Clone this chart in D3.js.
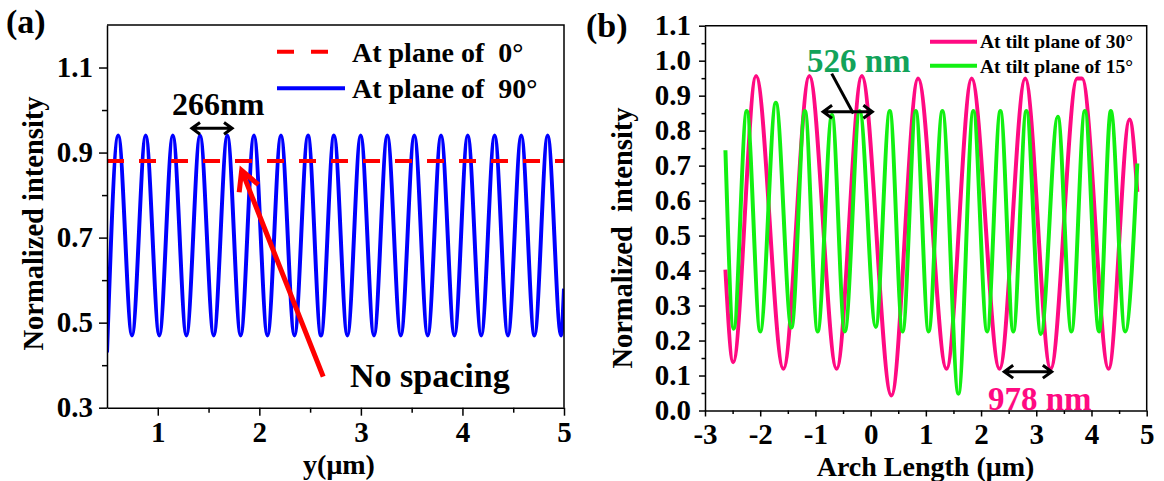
<!DOCTYPE html>
<html>
<head>
<meta charset="utf-8">
<script src="https://cdn.jsdelivr.net/npm/d3@7"></script>
<style>
  html, body { margin: 0; padding: 0; background: #fff; }
  svg text { font-family: "Liberation Serif", "Times New Roman", serif; font-weight: bold; white-space: pre; }
</style>
</head>
<body>
<svg id="fig" width="1164" height="481"></svg>
<script>
// ---------- Panel (a): intensity along y for the 0° and 90° planes ----------
const aTicksX = [1, 2, 3, 4, 5];
const aMinorX = [1.5, 2.5, 3.5, 4.5];
const aTicksY = [0.3, 0.5, 0.7, 0.9, 1.1];
const aMinorY = [0.4, 0.6, 0.8, 1.0];

// 0° plane: flat profile
const plane0X = [0.5, 5.0];
const plane0Y = [0.88, 0.88];

// 90° plane: extrema of the fringe profile (peaks/troughs), y in µm
const plane90X = [0.50, 0.611, 0.746, 0.881, 1.015, 1.148, 1.282, 1.416, 1.551, 1.685, 1.816,
                  1.947, 2.080, 2.213, 2.346, 2.479, 2.607, 2.735, 2.867, 2.998, 3.129, 3.260,
                  3.393, 3.526, 3.658, 3.789, 3.921, 4.052, 4.185, 4.317, 4.448, 4.579, 4.709,
                  4.839, 4.971, 5.00];
const plane90Y = [0.43, 0.94, 0.47, 0.94, 0.47, 0.94, 0.47, 0.94, 0.47, 0.94, 0.47,
                  0.94, 0.47, 0.94, 0.47, 0.94, 0.47, 0.94, 0.47, 0.94, 0.47, 0.94,
                  0.47, 0.94, 0.47, 0.94, 0.47, 0.94, 0.47, 0.94, 0.47, 0.94, 0.47,
                  0.94, 0.47, 0.58];

const aSpacing = 0.266;          // µm, fringe period marked "266nm"
const aSpacingStart = 1.416;     // peak where the period marker starts

// ---------- Panel (b): intensity along the arch for tilted planes ----------
const bTicksX = [-3, -2, -1, 0, 1, 2, 3, 4, 5];
const bMinorX = [-2.5, -1.5, -0.5, 0.5, 1.5, 2.5, 3.5, 4.5];
const bTicksY = [0.0, 0.1, 0.2, 0.3, 0.4, 0.5, 0.6, 0.7, 0.8, 0.9, 1.0, 1.1];
const bMinorY = [0.05, 0.15, 0.25, 0.35, 0.45, 0.55, 0.65, 0.75, 0.85, 0.95, 1.05];

// 30° tilt plane extrema
const tilt30X = [-2.63, -2.49, -2.075, -1.58, -1.11, -0.616, -0.16, 0.376, 0.86, 1.375,
                 1.83, 2.334, 2.80, 3.26, 3.74, 3.83, 4.31, 4.69, 4.83];
const tilt30Y = [0.403, 0.138, 0.956, 0.119, 0.956, 0.119, 0.956, 0.043, 0.949, 0.119,
                 0.949, 0.119, 0.949, 0.119, 0.949, 0.949, 0.119, 0.832, 0.625];

// 15° tilt plane extrema
const tilt15X = [-2.63, -2.48, -2.244, -2.0, -1.717, -1.434, -1.19, -0.96, -0.70, -0.468,
                 -0.198, 0.092, 0.347, 0.579, 0.818, 1.05, 1.30, 1.59, 1.86, 2.11,
                 2.35, 2.584, 2.82, 3.084, 3.39, 3.637, 3.88, 4.137, 4.35, 4.61, 4.83];
const tilt15Y = [0.744, 0.234, 0.856, 0.226, 0.88, 0.237, 0.856, 0.226, 0.845, 0.226,
                 0.856, 0.239, 0.856, 0.226, 0.856, 0.226, 0.856, 0.048, 0.856, 0.226,
                 0.856, 0.226, 0.856, 0.219, 0.84, 0.226, 0.856, 0.226, 0.856, 0.226, 0.706];

// ---------- colours ----------
const C_RED = "#ff0000", C_BLUE = "#0000ff", C_PINK = "#ff0a82", C_GREEN = "#12f012";
const C_GREEN_TXT = "#12a35a";

const svg = d3.select("#fig");
const zip = (xs, ys) => xs.map((x, i) => [x, ys[i]]);

function drawAxes(g, x, y, o) {
  const [x0, x1] = x.range(), [y0, y1] = y.range();
  const fs = 29;
  // minor ticks
  g.append("g").attr("transform", `translate(0,${y0})`)
    .call(d3.axisBottom(x).tickValues(o.minorX).tickSize(o.minorLen).tickFormat("").tickSizeOuter(0))
    .call(s => s.select(".domain").remove());
  g.append("g").attr("transform", `translate(${x0},0)`)
    .call(d3.axisLeft(y).tickValues(o.minorY).tickSize(o.minorLen).tickFormat("").tickSizeOuter(0))
    .call(s => s.select(".domain").remove());
  // major ticks
  g.append("g").attr("transform", `translate(0,${y0})`)
    .call(d3.axisBottom(x).tickValues(o.ticksX).tickSize(o.majorLen).tickPadding(o.padX)
      .tickFormat(o.fmtX).tickSizeOuter(0))
    .call(s => s.selectAll("text").attr("font-size", fs).attr("fill", "#000"));
  g.append("g").attr("transform", `translate(${x0},0)`)
    .call(d3.axisLeft(y).tickValues(o.ticksY).tickSize(o.majorLen).tickPadding(o.padY)
      .tickFormat(o.fmtY).tickSizeOuter(0))
    .call(s => s.selectAll("text").attr("font-size", fs).attr("fill", "#000"));
  g.selectAll(".tick line").attr("stroke", "#000").attr("stroke-width", 1.5);
  g.selectAll(".domain").attr("stroke", "#000").attr("stroke-width", 1.5);
  g.selectAll("g").attr("font-family", null);
  // frame: top and right edges
  g.append("path").attr("d", `M${x0},${y1}H${x1}V${y0}`)
    .attr("fill", "none").attr("stroke", "#000").attr("stroke-width", 1.5);
}

function vHead(tx, ty, dx, dy, len, ang) {
  const n = Math.hypot(dx, dy), ux = dx / n, uy = dy / n;
  const pts = [ang, -ang].map(a => {
    const c = Math.cos(a), s = Math.sin(a);
    const bx = -(ux * c - uy * s), by = -(ux * s + uy * c);
    return [tx + bx * len, ty + by * len];
  });
  return `M${pts[0][0]},${pts[0][1]}L${tx},${ty}L${pts[1][0]},${pts[1][1]}`;
}

function doubleArrow(g, xa, xb, yy, color, w, len) {
  const ang = 36 * Math.PI / 180;
  const p = `M${xa},${yy}L${xb},${yy}` + vHead(xa, yy, -1, 0, len, ang) + vHead(xb, yy, 1, 0, len, ang);
  g.append("path").attr("d", p).attr("fill", "none").attr("stroke", color)
    .attr("stroke-width", w).attr("stroke-linejoin", "miter");
}

// ================= Panel (a) =================
{
  const xA = d3.scaleLinear([0.5, 5], [107, 564]);
  const yA = d3.scaleLinear([0.3, 1.2], [407.7, 25]);
  const g = svg.append("g");
  svg.append("clipPath").attr("id", "clipA").append("rect")
    .attr("x", 107).attr("y", 25).attr("width", 457).attr("height", 382.7);

  const line = d3.line().x(d => xA(d[0])).y(d => yA(d[1])).curve(d3.curveMonotoneX);
  g.append("path").datum(zip(plane90X, plane90Y)).attr("d", line)
    .attr("fill", "none").attr("stroke", C_BLUE).attr("stroke-width", 4).attr("clip-path", "url(#clipA)");
  g.append("path").datum(zip(plane0X, plane0Y)).attr("d", d3.line().x(d => xA(d[0])).y(d => yA(d[1])))
    .attr("fill", "none").attr("stroke", C_RED).attr("stroke-width", 4).attr("stroke-dasharray", "17,15");

  drawAxes(g, xA, yA, {
    ticksX: aTicksX, minorX: aMinorX, ticksY: aTicksY, minorY: aMinorY,
    majorLen: 8, minorLen: 5, padX: 6, padY: 6,
    fmtX: d => String(d), fmtY: d3.format(".1f")
  });

  // legend
  g.append("line").attr("x1", 277).attr("x2", 345).attr("y1", 51.7).attr("y2", 51.7)
    .attr("stroke", C_RED).attr("stroke-width", 4).attr("stroke-dasharray", "17,17");
  g.append("text").attr("x", 352).attr("y", 61.7).attr("font-size", 28).text("At plane of  0°");
  g.append("line").attr("x1", 277).attr("x2", 345).attr("y1", 88.3).attr("y2", 88.3)
    .attr("stroke", C_BLUE).attr("stroke-width", 4);
  g.append("text").attr("x", 352).attr("y", 98.3).attr("font-size", 28).text("At plane of  90°");

  // period marker
  const ay = yA(0.957);
  doubleArrow(g, xA(aSpacingStart - 0.08), xA(aSpacingStart + aSpacing + 0.05), ay, "#000", 3, 10);
  g.append("text").attr("x", 172).attr("y", 115).attr("font-size", 32).text("266nm");

  // "No spacing" pointer
  const tail = [xA(2.629), yA(0.373)], tip = [xA(1.826), yA(0.858)];
  g.append("path")
    .attr("d", `M${tail[0]},${tail[1]}L${tip[0]},${tip[1]}` +
      vHead(tip[0], tip[1], tip[0] - tail[0], tip[1] - tail[1], 22, 28 * Math.PI / 180))
    .attr("fill", "none").attr("stroke", C_RED).attr("stroke-width", 5).attr("stroke-linejoin", "miter");
  g.append("text").attr("x", 350).attr("y", 387).attr("font-size", 34).text("No spacing");

  // titles
  g.append("text").attr("x", 339).attr("y", 474).attr("text-anchor", "middle")
    .attr("font-size", 28).text("y(μm)");
  g.append("text").attr("transform", "translate(43,223.5) rotate(-90)").attr("text-anchor", "middle")
    .attr("font-size", 28.5).text("Normalized intensity");
  g.append("text").attr("x", 6).attr("y", 33).attr("font-size", 34).text("(a)");
}

// ================= Panel (b) =================
{
  const xB = d3.scaleLinear([-3, 5], [705, 1146.7]);
  const yB = d3.scaleLinear([0, 1.1], [410.5, 25.7]);
  const g = svg.append("g");
  svg.append("clipPath").attr("id", "clipB").append("rect")
    .attr("x", 705).attr("y", 25.7).attr("width", 441.7).attr("height", 384.8);

  const line = d3.line().x(d => xB(d[0])).y(d => yB(d[1])).curve(d3.curveMonotoneX);
  g.append("path").datum(zip(tilt30X, tilt30Y)).attr("d", line)
    .attr("fill", "none").attr("stroke", C_PINK).attr("stroke-width", 4).attr("clip-path", "url(#clipB)");
  g.append("path").datum(zip(tilt15X, tilt15Y)).attr("d", line)
    .attr("fill", "none").attr("stroke", C_GREEN).attr("stroke-width", 4).attr("clip-path", "url(#clipB)");

  drawAxes(g, xB, yB, {
    ticksX: bTicksX, minorX: bMinorX, ticksY: bTicksY, minorY: bMinorY,
    majorLen: 6, minorLen: 3.5, padX: 7, padY: 8,
    fmtX: d => String(d), fmtY: d3.format(".1f")
  });

  // legend
  g.append("line").attr("x1", 930).attr("x2", 977).attr("y1", 41.7).attr("y2", 41.7)
    .attr("stroke", C_PINK).attr("stroke-width", 4);
  g.append("text").attr("x", 980).attr("y", 48.3).attr("font-size", 19.5).text("At tilt plane of 30°");
  g.append("line").attr("x1", 930).attr("x2", 977).attr("y1", 65.7).attr("y2", 65.7)
    .attr("stroke", C_GREEN).attr("stroke-width", 4);
  g.append("text").attr("x", 980).attr("y", 72.7).attr("font-size", 19.5).text("At tilt plane of 15°");

  // 526 nm marker
  const y15 = yB(0.854);
  doubleArrow(g, xB(-0.86), xB(-0.86 + 0.89), y15, "#000", 3, 11);
  g.append("path").attr("d", `M${xB(-0.705)},${yB(0.963)}L${xB(-0.314)},${yB(0.849)}`)
    .attr("stroke", "#000").attr("stroke-width", 3);
  g.append("text").attr("x", 807).attr("y", 71.7).attr("font-size", 33).attr("fill", C_GREEN_TXT)
    .text("526 nm");

  // 978 nm marker
  doubleArrow(g, xB(2.42), xB(3.28), yB(0.111), "#000", 3, 11);
  g.append("text").attr("x", 988).attr("y", 410).attr("font-size", 33).attr("fill", C_PINK)
    .text("978 nm");

  // titles
  g.append("text").attr("x", 925.5).attr("y", 476).attr("text-anchor", "middle")
    .attr("font-size", 28).text("Arch Length (μm)");
  g.append("text").attr("transform", "translate(632.4,238) rotate(-90)").attr("text-anchor", "middle")
    .attr("font-size", 28.5).text("Normalized  intensity");
  g.append("text").attr("x", 586).attr("y", 37).attr("font-size", 34).text("(b)");
}
</script>
</body>
</html>
